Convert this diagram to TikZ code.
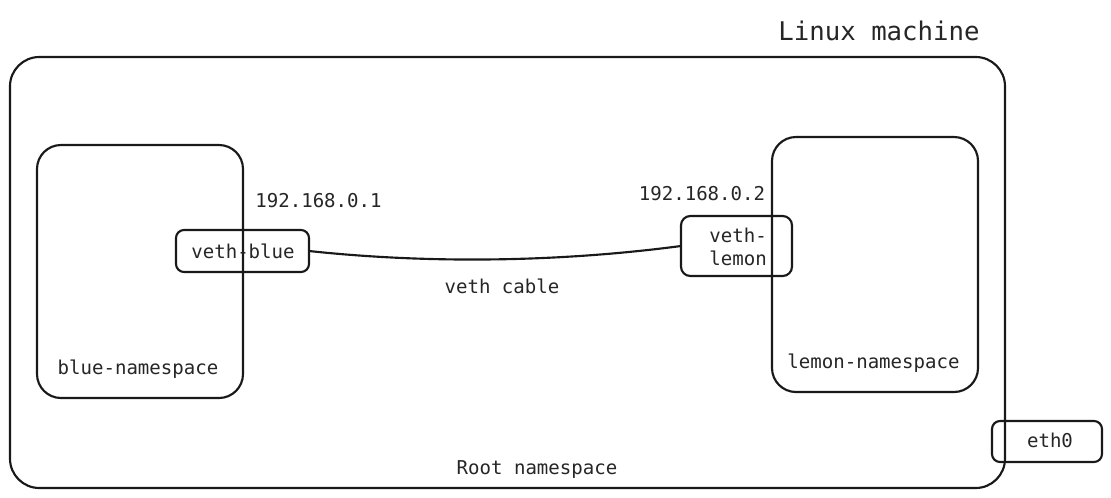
\documentclass[tikz,border=0pt]{standalone}
\usepackage{fontspec}
\setmonofont{DejaVu Sans Mono}
\begin{document}
\begin{tikzpicture}[x=0.75pt,y=-0.75pt,
  box/.style={draw=black!90,line width=1.6pt,inner sep=0pt,outer sep=0pt},
  lbl/.style={inner sep=0pt,font=\ttfamily\fontsize{14.3}{17}\selectfont,text=black!85,text height=10pt,text depth=3pt},
  ttl/.style={inner sep=0pt,font=\ttfamily\fontsize{19.3}{23}\selectfont,text=black!85}]
\useasboundingbox[fill=white] (0,0) rectangle (1111,497);
% boxes
\node[box,minimum width=995*0.75pt,minimum height=431*0.75pt,rounded corners=22pt] (outer) at (507.5,272.5) {};
\node[box,minimum width=206*0.75pt,minimum height=253*0.75pt,rounded corners=18pt] (blue) at (140,271.5) {};
\node[box,minimum width=206*0.75pt,minimum height=255*0.75pt,rounded corners=18pt] (lemon) at (875,264.5) {};
\node[box,minimum width=133*0.75pt,minimum height=42*0.75pt,rounded corners=6pt] (vethblue) at (242.5,251) {};
\node[box,minimum width=111*0.75pt,minimum height=60*0.75pt,rounded corners=7pt] (vethlemon) at (736.5,246) {};
\node[box,minimum width=110*0.75pt,minimum height=41*0.75pt,rounded corners=6pt] (eth0) at (1047,441.5) {};
% texts
\node[ttl] (title) at (879,31) {Linux machine};
\node[lbl] (vbtext) at (243,254) {veth-blue};
\node[lbl,anchor=east,align=right,text height=,text depth=] (vltext) at (767,247) {veth-\\lemon};
\node[lbl] (ip1) at (318.5,203) {192.168.0.1};
\node[lbl] (ip2) at (702,196) {192.168.0.2};
\node[lbl] (bns) at (138,370) {blue-namespace};
\node[lbl] (lns) at (873.5,364) {lemon-namespace};
\node[lbl] (cable) at (502,289) {veth cable};
\node[lbl] (root) at (537,470) {Root namespace};
\node[lbl] (eth0t) at (1050,443) {eth0};
% cable
\draw[line width=1.6pt,black!90] (vethblue.east) .. controls (430,264) and (560,262) .. (vethlemon.west);
\end{tikzpicture}
\end{document}
